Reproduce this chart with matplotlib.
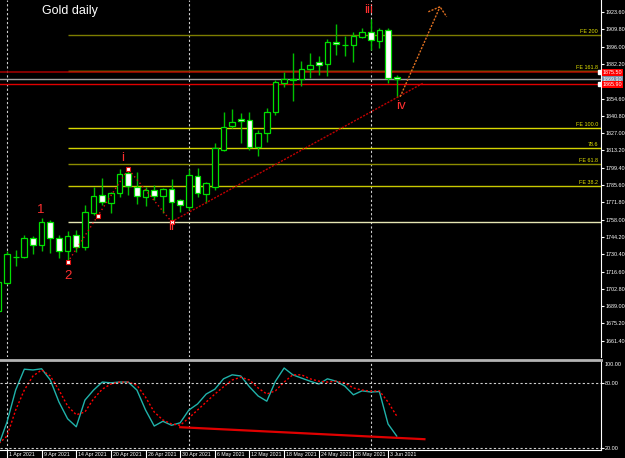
import numpy as np
import matplotlib.pyplot as plt
from matplotlib.lines import Line2D
from matplotlib.transforms import ScaledTranslation

plt.rcParams['font.family'] = ['Liberation Sans', 'DejaVu Sans']

# daily bars, index 0 = 1 Apr 2021, index -1 is the half hidden bar on the left edge
bars = np.arange(-1, 46)
opens = [1685.0, 1707.7, 1728.5, 1728.4, 1743.1, 1737.7, 1755.8, 1743.6, 1732.7, 1745.5,
         1736.4, 1763.5, 1777.6, 1771.0, 1779.0, 1794.9, 1784.2, 1776.3, 1781.6, 1776.8,
         1782.2, 1773.4, 1768.3, 1792.8, 1778.4, 1784.0, 1813.5, 1832.9, 1838.2, 1837.4,
         1816.2, 1826.8, 1844.1, 1867.2, 1870.0, 1869.9, 1877.9, 1883.5, 1881.9, 1899.4,
         1897.3, 1897.3, 1903.4, 1907.9, 1900.7, 1909.2, 1872.0]
highs = [1718.0, 1733.0, 1733.7, 1745.7, 1744.9, 1759.0, 1757.7, 1745.7, 1749.2, 1749.7,
         1769.6, 1784.2, 1790.9, 1780.3, 1798.1, 1798.4, 1796.2, 1784.2, 1785.6, 1783.0,
         1790.1, 1774.4, 1798.1, 1798.9, 1788.2, 1819.3, 1844.1, 1846.2, 1842.8, 1844.1,
         1829.5, 1846.8, 1869.4, 1876.0, 1891.1, 1884.8, 1890.7, 1888.5, 1901.8, 1913.7,
         1904.7, 1907.4, 1911.1, 1917.8, 1910.6, 1910.6, 1873.1]
lows = [1677.0, 1706.6, 1721.2, 1727.4, 1730.6, 1733.0, 1731.1, 1727.2, 1723.9, 1732.4,
        1733.7, 1761.7, 1769.6, 1763.5, 1776.3, 1777.6, 1770.4, 1768.8, 1773.6, 1763.0,
        1756.3, 1764.3, 1765.7, 1776.3, 1771.0, 1782.0, 1813.1, 1830.8, 1818.9, 1813.5,
        1808.9, 1820.1, 1841.4, 1864.0, 1852.4, 1864.6, 1870.7, 1873.4, 1872.8, 1889.3,
        1888.7, 1883.5, 1902.6, 1893.3, 1895.1, 1866.7, 1856.0]
closes = [1708.0, 1730.3, 1728.0, 1743.6, 1737.7, 1755.8, 1743.6, 1733.2, 1745.2, 1736.4,
          1763.8, 1776.8, 1771.8, 1779.0, 1794.4, 1784.8, 1776.8, 1781.6, 1776.8, 1782.2,
          1772.0, 1769.4, 1793.3, 1779.0, 1787.0, 1815.0, 1831.6, 1836.1, 1836.7, 1816.2,
          1826.8, 1844.1, 1868.0, 1869.9, 1869.6, 1877.9, 1881.3, 1881.3, 1899.9, 1897.8,
          1897.0, 1904.5, 1907.4, 1901.3, 1909.2, 1871.2, 1869.9]

# stochastic (main + signal) for the same bars
stoch_main = [21.5, 43.7, 73.3, 92.6, 91.9, 93.0, 82.6, 62.2, 46.7, 39.3,
              64.0, 73.3, 80.7, 80.0, 80.7, 80.7, 73.3, 54.8, 40.0, 44.4,
              40.7, 43.0, 54.8, 60.4, 69.6, 74.1, 83.7, 87.4, 86.3, 76.3,
              67.8, 63.0, 81.5, 93.7, 87.4, 84.4, 81.5, 78.9, 83.7, 81.5,
              77.0, 68.9, 72.6, 71.5, 71.9, 41.9, 30.7]
stoch_signal = [23.3, 30.7, 54.8, 73.3, 86.3, 91.9, 86.3, 73.3, 58.5, 50.4,
                53.0, 65.2, 74.1, 78.9, 80.7, 80.7, 77.8, 66.7, 53.0, 45.6,
                41.9, 40.7, 47.4, 54.8, 62.2, 69.6, 76.3, 82.6, 85.2, 82.6,
                75.2, 69.6, 72.6, 80.7, 87.4, 87.4, 83.7, 81.5, 80.7, 81.5,
                80.0, 75.2, 73.3, 72.2, 72.6, 62.2, 49.3]

time_tick_bars = [0, 4, 8, 12, 16, 20, 24, 28, 32, 36, 40, 44]
time_tick_labels = ['1 Apr 2021', '9 Apr 2021', '14 Apr 2021', '20 Apr 2021', '26 Apr 2021',
                    '30 Apr 2021', '6 May 2021', '12 May 2021', '18 May 2021', '24 May 2021',
                    '28 May 2021', '3 Jun 2021']
price_ticks = [1923.60, 1909.80, 1896.00, 1882.20, 1854.60, 1840.80, 1827.00, 1813.20,
               1799.40, 1785.60, 1771.80, 1758.00, 1744.20, 1730.40, 1716.60, 1702.80,
               1689.00, 1675.20, 1661.40]
month_bars = [0, 21, 42]

# fibo expansion points (2 -> i -> ii)
fe_a = (7, 1723.9)
fe_b = (14, 1798.4)
fe_c = (19, 1756.3)
fe_ratios = [0.0, 0.382, 0.618, 0.786, 1.0, 1.618, 2.0]
fe_names = ['', 'FE 38.2', 'FE 61.8', '78.6', 'FE 100.0', 'FE 161.8', 'FE 200']
fe_colors = ['#e6e6b4', '#c8c800', '#8c8c00', '#d2d200', '#d8d800', '#e6e600', '#7d7d00']

trend_pts = ([19, 48], [1756.3, 1866.7])
arrow_pts = ([45.4, 50.0], [1856.0, 1927.8])
arrow_head = ([48.65, 50.0, 50.77], [1923.8, 1927.8, 1919.8])
div_pts = ([20, 48.2], [38.9, 27.8])

red_hi, bid, red_lo = 1875.5, 1869.9, 1865.9
waves = [('1', 3.9, 1765.6), ('2', 7.0, 1713.0), ('i', 13.4, 1807.0), ('ii', 19.0, 1752.0),
         ('iii', 41.8, 1925.2), ('iv', 45.5, 1848.6)]

W, H = 625, 458
fig = plt.figure(figsize=(W / 100, H / 100), dpi=100, facecolor='black')


def px_axes(x0, y0, x1, y1):
    return fig.add_axes([x0 / W, 1 - y1 / H, (x1 - x0) / W, (y1 - y0) / H])


ax = px_axes(0, 0, 601, 357)
ax2 = px_axes(0, 361, 601, 450)
xlim = (-0.808, 68.59)

for a in (ax, ax2):
    a.set_facecolor('black')
    a.set_xlim(*xlim)
    for s in ('top', 'left'):
        a.spines[s].set_visible(False)
    a.spines['right'].set_color('white')
    a.spines['bottom'].set_visible(False)
    a.yaxis.tick_right()
    a.tick_params(axis='y', colors='white', labelsize=3.9, length=2, width=0.8, pad=1)
    for mb in month_bars:
        a.axvline(mb, color='#d0d0d0', lw=0.8, ls=(0, (2, 2)))

# main window
ax.set_ylim(1648.4, 1933.2)
ax.set_xticks([])
ax.set_yticks(price_ticks)
ax.set_yticklabels(['%.2f' % p for p in price_ticks])

# fibo levels
span = fe_b[1] - fe_a[1]
for r, name, col in zip(fe_ratios, fe_names, fe_colors):
    lvl = fe_c[1] + r * span
    ax.hlines(lvl, fe_a[0], xlim[1], color=col, lw=1.0)
    if name:
        ax.text(68.25, lvl + 0.8, name, color='#e6e600', fontsize=3.9, ha='right', va='bottom')

# price lines
ax.axhline(red_hi, color='#9a0000', lw=1.2)
ax.axhline(bid, color='#a0a0a0', lw=1.0)
ax.axhline(red_lo, color='#e00000', lw=1.0)
ax.plot([68.5, 68.5], [red_hi, red_lo], ls='none', marker='s', ms=2.5,
        mfc='white', mec='white')

# candles
o = np.array(opens)
c = np.array(closes)
up = c >= o
ax.vlines(bars, lows, highs, color='#00c000', lw=1.0, zorder=3)
body = np.maximum(np.abs(c - o), 0.35)
ax.bar(bars, body, bottom=np.minimum(o, c), width=0.66,
       color=np.where(up, 'black', 'white'), edgecolor='#00e000', linewidth=0.9, zorder=4)

# fibo expansion path with markers
ax.plot([fe_a[0], fe_b[0], fe_c[0]], [fe_a[1], fe_b[1], fe_c[1]], color='#e01010',
        lw=1.0, ls=(0, (1, 2)), zorder=5)
mid = ((fe_a[0] + fe_b[0]) / 2, (fe_a[1] + fe_b[1]) / 2)
ax.plot([fe_a[0], mid[0], fe_b[0], fe_c[0]], [fe_a[1], mid[1], fe_b[1], fe_c[1]], ls='none',
        marker='s', ms=3, mfc='white', mec='#e01010', mew=0.8, zorder=6)

ax.plot(*trend_pts, color='#c00000', lw=1.0, ls=(0, (1.5, 1)), zorder=5)
ax.plot(*arrow_pts, color='#e07020', lw=1.0, ls=(0, (1.5, 1)), zorder=5)
ax.plot(*arrow_head, color='#e07020', lw=1.0, ls=(0, (1.5, 1)), zorder=5)

for txt, bx, py in waves:
    ax.text(bx, py, txt, color='#ff3030', fontsize=9.5, ha='center', va='center', zorder=7)

ax.text(0.07, 0.968, 'Gold daily', color='white', fontsize=9, transform=ax.transAxes,
        ha='left', va='center')

# price boxes on the axis
for val, fc in ((red_hi, '#ff0000'), (bid, '#7890a8'), (red_lo, '#ff0000')):
    ax.text(1.003, val, '%.2f' % val, transform=ax.get_yaxis_transform(), color='white',
            fontsize=3.9, va='center', ha='left', clip_on=False,
            bbox=dict(boxstyle='square,pad=0.15', fc=fc, ec='none'))

# stochastic window
ax2.set_ylim(17.8, 100.2)
ax2.plot(bars, stoch_main, color='#20b2aa', lw=1.0)
ax2.plot(bars, stoch_signal, color='#ff0000', lw=1.0, ls=(0, (1.5, 1.5)))
ax2.plot(*div_pts, color='#e00000', lw=1.6)
for lv in (80, 20):
    ax2.axhline(lv, color='#d0d0d0', lw=0.8, ls=(0, (2, 2)))
ax2.set_yticks([80, 20])
ax2.set_yticklabels(['80.00', '20.00'])
ax2.text(1.0067, 96.5, '100.00', color='white', fontsize=3.9, va='center', ha='left',
         transform=ax2.get_yaxis_transform(), clip_on=False)
ax2.spines['bottom'].set_visible(True)
ax2.spines['bottom'].set_color('white')
ax2.set_xticks(time_tick_bars)
ax2.set_xticklabels(time_tick_labels, ha='left', va='top')
ax2.tick_params(axis='x', colors='white', labelsize=3.8, length=7, width=0.8, pad=-5.5)
shift = ScaledTranslation(2 / 100, 0, fig.dpi_scale_trans)
for lbl in ax2.get_xticklabels():
    lbl.set_transform(lbl.get_transform() + shift)

# window separator
fig.add_artist(Line2D([0, 601 / W], [1 - 359.5 / H, 1 - 359.5 / H], color='#b4b4b4', lw=2))

fig.savefig('out.png', dpi=100, facecolor='black')
